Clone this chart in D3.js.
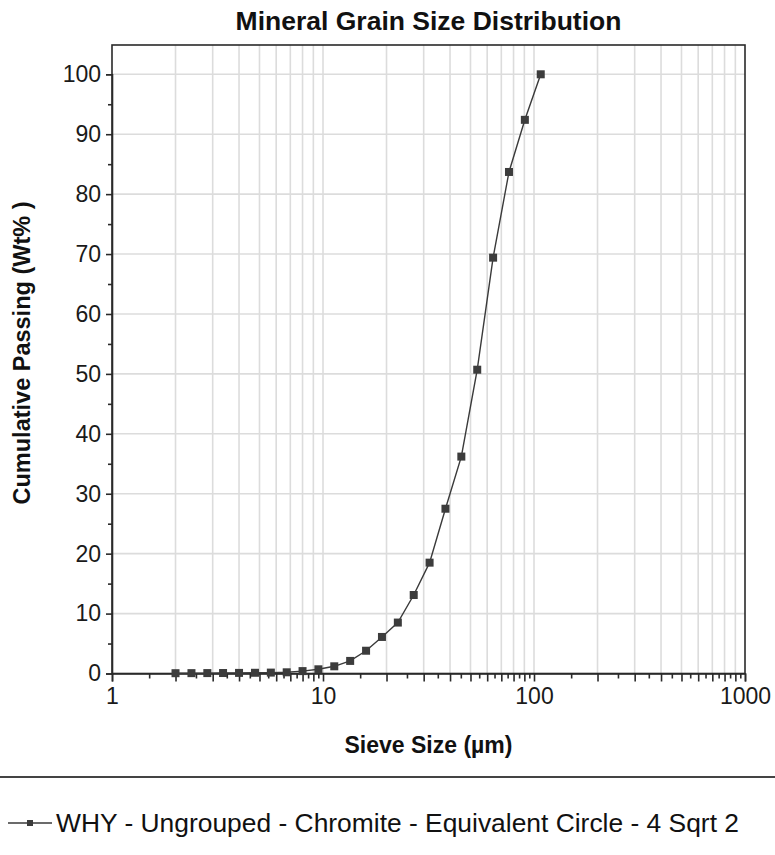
<!DOCTYPE html>
<html><head><meta charset="utf-8">
<script src="https://cdn.jsdelivr.net/npm/d3@7"></script>
<style>body{margin:0;background:#fff}svg{display:block}text{font-family:"Liberation Sans",Arial,sans-serif}</style>
</head><body>
<script>
const title = "Mineral Grain Size Distribution";
const xLabel = "Sieve Size (µm)";
const yLabel = "Cumulative Passing (Wt% )";
const seriesName = "WHY - Ungrouped - Chromite - Equivalent Circle - 4 Sqrt 2";
const sieveSizes = [2, 2.38, 2.83, 3.36, 4, 4.76, 5.66, 6.73, 8, 9.51, 11.31, 13.45, 16, 19.03, 22.63, 26.91, 32, 38.05, 45.25, 53.82, 64, 76.11, 90.51, 107.63];
const cumPassing = [0.05, 0.06, 0.07, 0.08, 0.1, 0.12, 0.15, 0.2, 0.4, 0.7, 1.2, 2.1, 3.8, 6.1, 8.5, 13.1, 18.5, 27.5, 36.2, 50.7, 69.4, 83.7, 92.4, 100];
const xMajorTicks = [1, 10, 100, 1000];
const yTicks = [0, 10, 20, 30, 40, 50, 60, 70, 80, 90, 100];

const W = 775, H = 855;
const plot = {left: 112, right: 745, top: 45, bottom: 673.5};
const svg = d3.select("body").append("svg").attr("width", W).attr("height", H);

const x = d3.scaleLog().domain([1, 1000]).range([plot.left, plot.right]);
const y = d3.scaleLinear().domain([0, 100]).range([plot.bottom, 74.3]);

const xGrid = [];
for (let d = 1; d < 1000; d *= 10) for (let k = 1; k <= 9; k++) if (!(d === 1 && k === 1)) xGrid.push(d * k);
const xMinor = [];
for (let d = 1; d < 1000; d *= 10) for (let k = 1.5; k < 10; k += 1) xMinor.push(d * k);

const grid = svg.append("g");
grid.selectAll("line.vg").data(xGrid).join("line").attr("class", "vg")
  .attr("x1", d => x(d)).attr("x2", d => x(d)).attr("y1", plot.bottom).attr("y2", plot.top)
  .attr("stroke", "#dcdcdc").attr("stroke-width", 1.6);
grid.selectAll("line.hg").data(yTicks.slice(1)).join("line").attr("class", "hg")
  .attr("x1", plot.left).attr("x2", plot.right).attr("y1", d => y(d)).attr("y2", d => y(d))
  .attr("stroke", "#dcdcdc").attr("stroke-width", 1.6);

svg.append("rect").attr("x", plot.left).attr("y", plot.top).attr("width", plot.right - plot.left).attr("height", plot.bottom - plot.top)
  .attr("fill", "none").attr("stroke", "#2a2a2a").attr("stroke-width", 1.6);

const FONT = "Liberation Sans, Arial, sans-serif";
const yAxis = d3.axisLeft(y).tickValues(yTicks).tickSize(6).tickPadding(5).tickFormat(d3.format("d"));
const ya = svg.append("g").attr("transform", `translate(${plot.left},0)`).call(yAxis);
ya.select(".domain").attr("stroke", "#2a2a2a").attr("stroke-width", 1.6);
ya.selectAll(".tick line").attr("stroke", "#2a2a2a").attr("stroke-width", 1.6);
ya.selectAll(".tick text").attr("font-size", 23).attr("fill", "#1a1a1a").attr("font-family", FONT);
const ym = svg.append("g").attr("transform", `translate(${plot.left},0)`)
  .call(d3.axisLeft(y).tickValues(d3.range(5, 100, 10)).tickSize(4).tickFormat(""));
ym.select(".domain").remove();
ym.selectAll(".tick line").attr("stroke", "#2a2a2a").attr("stroke-width", 1.6);

const xa = svg.append("g").attr("transform", `translate(0,${plot.bottom})`)
  .call(d3.axisBottom(x).tickValues(xMajorTicks).tickSize(8).tickPadding(6).tickFormat(d3.format("d")));
xa.select(".domain").attr("stroke", "#2a2a2a").attr("stroke-width", 1.6);
xa.selectAll(".tick line").attr("stroke", "#2a2a2a").attr("stroke-width", 1.6);
xa.selectAll(".tick text").attr("font-size", 23).attr("fill", "#1a1a1a").attr("font-family", FONT);
const xm1 = svg.append("g").attr("transform", `translate(0,${plot.bottom})`)
  .call(d3.axisBottom(x).tickValues(xGrid.filter(d => !xMajorTicks.includes(d))).tickSize(8).tickFormat(""));
xm1.select(".domain").remove();
xm1.selectAll(".tick line").attr("stroke", "#2a2a2a").attr("stroke-width", 1.6);
const xm2 = svg.append("g").attr("transform", `translate(0,${plot.bottom})`)
  .call(d3.axisBottom(x).tickValues(xMinor).tickSize(5).tickFormat(""));
xm2.select(".domain").remove();
xm2.selectAll(".tick line").attr("stroke", "#2a2a2a").attr("stroke-width", 1.6);

const data = sieveSizes.map((s, i) => ({s, v: cumPassing[i]}));
svg.append("path").datum(data)
  .attr("d", d3.line().x(d => x(d.s)).y(d => y(d.v)))
  .attr("fill", "none").attr("stroke", "#3a3a3a").attr("stroke-width", 1.4);
svg.selectAll("rect.pt").data(data).join("rect").attr("class", "pt")
  .attr("x", d => x(d.s) - 4).attr("y", d => y(d.v) - 4).attr("width", 8).attr("height", 8)
  .attr("fill", "#3c3c3c");

svg.append("text").attr("x", (plot.left + plot.right) / 2).attr("y", 30).attr("text-anchor", "middle")
  .attr("font-size", 26.5).attr("font-weight", "bold").attr("fill", "#111").text(title);
svg.append("text").attr("x", (plot.left + plot.right) / 2).attr("y", 753).attr("text-anchor", "middle")
  .attr("font-size", 23).attr("font-weight", "bold").attr("fill", "#111").text(xLabel);
svg.append("text").attr("transform", `translate(30,353) rotate(-90)`).attr("text-anchor", "middle")
  .attr("font-size", 23.5).attr("font-weight", "bold").attr("fill", "#111").text(yLabel);

svg.append("line").attr("x1", 0).attr("x2", W).attr("y1", 777).attr("y2", 777)
  .attr("stroke", "#444").attr("stroke-width", 2);

const lg = svg.append("g").attr("transform", "translate(8,823)");
lg.append("line").attr("x1", 0).attr("x2", 44).attr("y1", 0).attr("y2", 0).attr("stroke", "#3a3a3a").attr("stroke-width", 1.5);
lg.append("rect").attr("x", 19).attr("y", -3).attr("width", 6).attr("height", 6).attr("fill", "#3c3c3c");
lg.append("text").attr("x", 48).attr("y", 9).attr("font-size", 26.4).attr("fill", "#111").text(seriesName);
</script>
</body></html>
